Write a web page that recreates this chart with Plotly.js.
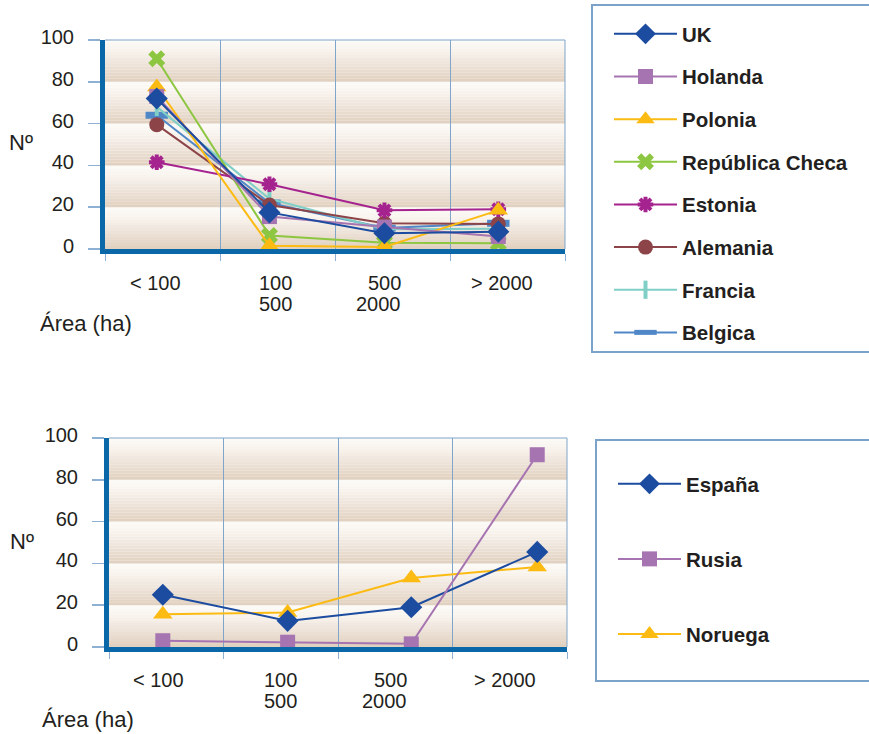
<!DOCTYPE html>
<html>
<head>
<meta charset="utf-8">
<script src="https://cdn.plot.ly/plotly-3.0.1.min.js"></script>
<style>html,body{margin:0;padding:0;background:#fff;}#chart{width:869px;height:734px;}</style>
</head>
<body>
<div id="chart"></div>
<script>
// ---- data ----
const categories = ['< 100', '100<br>500', '500<br>2000', '> 2000'];
const xTop = [0.45, 1.43, 2.43, 3.42];
const xBottom = [0.47, 1.56, 2.64, 3.74];
const yTicks = [0, 20, 40, 60, 80, 100];

const uk       = [72, 17.5, 7.5, 8.3];
const holanda  = [73, 15.5, 10.5, 6];
const polonia  = [77.5, 1.5, 1, 18.5];
const checa    = [91, 6.5, 3, 2.7];
const estonia  = [41.5, 31, 18.5, 19];
const alemania = [59.5, 21, 12.3, 12];
const francia  = [68, 24, 9.5, 9.7];
const belgica  = [64, 22, 10, 12.3];

const espana  = [25, 12.5, 19, 45.5];
const rusia   = [3, 2.3, 1.5, 92];
const noruega = [15.7, 16.5, 33, 38.3];

// ---- styling ----
const W = 869, H = 734;
const px = v => v / W, py = v => 1 - v / H;
const FONT = 'Liberation Sans, Arial, Helvetica, sans-serif';
const TXT = '#231f20';
const AXIS = '#0b68a8';
const GRID = '#7fa5ca';

const C = {
  uk: '#1c4c9f', holanda: '#a674b1', polonia: '#fcbb13', checa: '#8dc641',
  estonia: '#a5238f', alemania: '#8c4449', francia: '#80cfc7', belgica: '#4f87c7'
};

function tr(name, x, y, color, marker, xa, ya, legend, rank) {
  return {
    type: 'scatter', mode: 'lines+markers', name: name, x: x, y: y,
    xaxis: xa, yaxis: ya, legend: legend, legendgroup: name, legendrank: rank,
    line: {color: color, width: 2}, marker: marker, cliponaxis: false,
    hoverinfo: 'skip'
  };
}

const topTraces = [
  tr('UK', xTop, uk, C.uk, {symbol: 'diamond', size: 17, color: C.uk}, 'x', 'y', 'legend', 1),
  tr('Holanda', xTop, holanda, C.holanda, {symbol: 'square', size: 15, color: C.holanda}, 'x', 'y', 'legend', 2),
  tr('Polonia', xTop, polonia, C.polonia, {symbol: 'triangle-up', size: 17, color: C.polonia}, 'x', 'y', 'legend', 3),
  tr('República Checa', xTop, checa, C.checa, {symbol: 'x', size: 15, color: C.checa}, 'x', 'y', 'legend', 4),
  tr('Estonia', xTop, estonia, C.estonia, {symbol: 'asterisk-open', size: 13, color: C.estonia, line: {color: C.estonia, width: 4}}, 'x', 'y', 'legend', 5),
  tr('Alemania', xTop, alemania, C.alemania, {symbol: 'circle', size: 15, color: C.alemania}, 'x', 'y', 'legend', 6),
  tr('Francia', xTop, francia, C.francia, {symbol: 'line-ns-open', size: 13, color: C.francia, line: {color: C.francia, width: 4}}, 'x', 'y', 'legend', 7),
  tr('Belgica', xTop, belgica, C.belgica, {symbol: 'line-ew-open', size: 16, color: C.belgica, line: {color: C.belgica, width: 7}}, 'x', 'y', 'legend', 8)
];
const bottomTraces = [
  tr('España', xBottom, espana, C.uk, {symbol: 'diamond', size: 17, color: C.uk}, 'x2', 'y2', 'legend2', 1),
  tr('Rusia', xBottom, rusia, C.holanda, {symbol: 'square', size: 15, color: C.holanda}, 'x2', 'y2', 'legend2', 2),
  tr('Noruega', xBottom, noruega, C.polonia, {symbol: 'triangle-up', size: 17, color: C.polonia}, 'x2', 'y2', 'legend2', 3)
];
const data = topTraces.slice().reverse().concat([bottomTraces[2], bottomTraces[0], bottomTraces[1]]);

// background gradient bands (decoration)
const shapes = [];
function lerp(a, b, t) { return Math.round(a + (b - a) * t); }
const light = [253, 251, 248], dark = [224, 207, 190];
const STEPS = 14;
['y', 'y2'].forEach(function (yr) {
  const xr = yr === 'y' ? 'x domain' : 'x2 domain';
  for (let k = 0; k < yTicks.length - 1; k++) {
    const lo = yTicks[k], hi = yTicks[k + 1];
    for (let s = 0; s < STEPS; s++) {
      const t = Math.pow((s + 0.5) / STEPS, 1.2);
      const col = 'rgb(' + lerp(light[0], dark[0], t) + ',' + lerp(light[1], dark[1], t) + ',' + lerp(light[2], dark[2], t) + ')';
      shapes.push({type: 'rect', layer: 'below', xref: xr, x0: 0, x1: 1, yref: yr,
        y0: hi - (hi - lo) * (s + 1) / STEPS, y1: hi - (hi - lo) * s / STEPS,
        fillcolor: col, line: {width: 0}});
    }
  }
  shapes.push({type: 'line', layer: 'above', xref: xr, x0: 0, x1: 1, yref: yr + ' domain', y0: 1, y1: 1, line: {color: GRID, width: 1}});
  shapes.push({type: 'line', layer: 'above', xref: xr, x0: 1, x1: 1, yref: yr + ' domain', y0: 0, y1: 1, line: {color: GRID, width: 1}});
});
// legend boxes
shapes.push({type: 'rect', xref: 'paper', yref: 'paper', x0: px(592), x1: px(872), y0: py(352), y1: py(5), line: {color: '#7ba3c9', width: 2}, fillcolor: 'rgba(0,0,0,0)'});
shapes.push({type: 'rect', xref: 'paper', yref: 'paper', x0: px(596), x1: px(872), y0: py(681), y1: py(440), line: {color: '#7ba3c9', width: 2}, fillcolor: 'rgba(0,0,0,0)'});

const annotations = [];
function tickLabels(xa, yLine, pos) {
  categories.forEach(function (c, i) {
    c.split('<br>').forEach(function (line, j) {
      annotations.push({xref: xa, yref: 'paper', x: pos[i], y: py(yLine + j * 20.5), text: line, showarrow: false,
        xanchor: i === 2 ? 'right' : 'center', yanchor: 'middle',
        font: {family: FONT, size: 20, color: TXT}});
    });
  });
}
tickLabels('x', 283, [0.435, 1.483, 2.59, 3.448]);
tickLabels('x2', 680, [0.428, 1.5, 2.62, 3.46]);
annotations.push({xref: 'paper', yref: 'paper', x: px(7), y: py(143), text: 'Nº', showarrow: false, xanchor: 'left', yanchor: 'middle', font: {family: FONT, size: 22, color: TXT}});
annotations.push({xref: 'paper', yref: 'paper', x: px(8), y: py(541), text: 'Nº', showarrow: false, xanchor: 'left', yanchor: 'middle', font: {family: FONT, size: 22, color: TXT}});
annotations.push({xref: 'paper', yref: 'paper', x: px(38), y: py(323), text: 'Área (ha)', showarrow: false, xanchor: 'left', yanchor: 'middle', font: {family: FONT, size: 22, color: TXT}});
annotations.push({xref: 'paper', yref: 'paper', x: px(40), y: py(719), text: 'Área (ha)', showarrow: false, xanchor: 'left', yanchor: 'middle', font: {family: FONT, size: 22, color: TXT}});

function xAxis(dom, anchor) {
  return {domain: dom, anchor: anchor, range: [0, 4], tickvals: [0, 1, 2, 3, 4], showticklabels: false,
    ticks: 'outside', ticklen: 7, tickcolor: '#8db0d3', tickwidth: 1,
    showgrid: true, gridcolor: GRID, gridwidth: 1, zeroline: false,
    showline: true, linecolor: AXIS, linewidth: 5, fixedrange: true};
}
function yAxis(dom, anchor) {
  return {domain: dom, anchor: anchor, range: [0, 100], tickvals: yTicks,
    ticks: 'outside', ticklen: 12, tickcolor: '#8db0d3', tickwidth: 1.5, ticklabelstandoff: 10,
    ticklabelshift: -3,
    tickfont: {family: FONT, size: 20, color: TXT},
    showgrid: false, zeroline: false, showline: true, linecolor: AXIS, linewidth: 5, fixedrange: true};
}

const legendBase = {
  xanchor: 'left', yanchor: 'top', bgcolor: 'rgba(0,0,0,0)', borderwidth: 0,
  font: {family: FONT, size: 20.5, color: TXT, weight: 'bold'}, itemwidth: 63,
  traceorder: 'grouped', itemclick: false, itemdoubleclick: false
};

const layout = {
  width: W, height: H, margin: {l: 0, r: 0, t: 0, b: 0},
  paper_bgcolor: '#ffffff', plot_bgcolor: 'rgba(0,0,0,0)',
  font: {family: FONT, color: TXT},
  showlegend: true,
  xaxis: xAxis([px(105), px(565)], 'y'),
  yaxis: yAxis([py(249), py(40)], 'x'),
  xaxis2: xAxis([px(109), px(567)], 'y2'),
  yaxis2: yAxis([py(647), py(438)], 'x2'),
  legend: Object.assign({}, legendBase, {x: px(609), y: py(14), tracegroupgap: 13}),
  legend2: Object.assign({}, legendBase, {x: px(613), y: py(464), tracegroupgap: 45.4}),
  shapes: shapes,
  annotations: annotations
};

Plotly.newPlot('chart', data, layout, {displayModeBar: false, staticPlot: true});
</script>
</body>
</html>
